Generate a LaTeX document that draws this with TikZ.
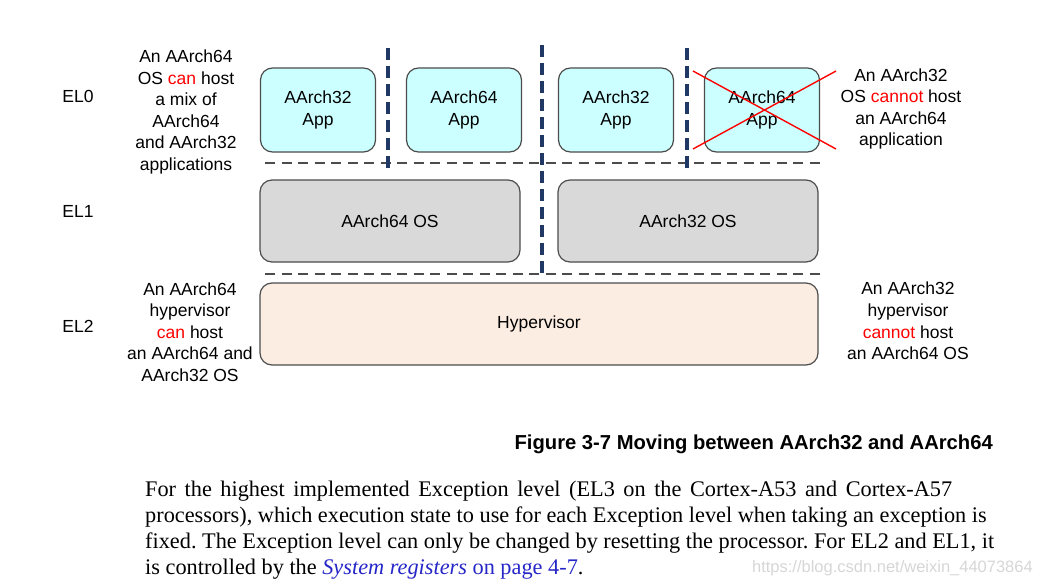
\documentclass[tikz,border=0pt]{standalone}
\usepackage{fontspec}
\setmainfont{Liberation Serif}
\setsansfont{Liberation Sans}
\usepackage{tikz}
\frenchspacing

\definecolor{appCyan}{HTML}{CCFFFF}
\definecolor{osGray}{HTML}{D9D9D9}
\definecolor{hypPeach}{HTML}{FCEDE2}
\definecolor{splitNavy}{HTML}{1F3864}
\definecolor{linkBlue}{HTML}{2626C8}
\definecolor{noRed}{HTML}{FF0000}
\definecolor{markGray}{HTML}{D6D6D6}

\begin{document}
\begin{tikzpicture}[%
	x=1pt, y=-1pt,
	every node/.style = {font=\sffamily\fontsize{17.5}{21.6}\selectfont, align=center, inner sep=0pt},
	layer/.style={shape=rectangle, rounded corners=12pt, draw=black!70, line width=1.2pt},
	app/.style={layer, fill=appCyan, minimum width=115pt, minimum height=84pt},
	os/.style={layer, fill=osGray, minimum width=260pt, minimum height=82pt},
	hyp/.style={layer, fill=hypPeach, minimum width=558pt, minimum height=82pt},
	levelSplit/.style={draw=black!70, line width=2.2pt, dash pattern=on 10pt off 6.5pt},
	stateSplit/.style={draw=splitNavy, line width=3.5pt, dash pattern=on 12pt off 6pt},
	note/.style={anchor=center},
	body/.style={font=\rmfamily\fontsize{22.3}{26}\selectfont, align=left, anchor=north west}
	]
  \useasboundingbox (0,0) rectangle (1042,586);
  % exception levels
  \node (el0) at (78,96) {EL0};
  \node (el1) at (78,211) {EL1};
  \node (el2) at (78,326) {EL2};
  % layers
  \node [app] (app1) at (318,110) {AArch32\\App};
  \node [app] (app2) at (464,110) {AArch64\\App};
  \node [app] (app3) at (616,110) {AArch32\\App};
  \node [app] (app4) at (762,110) {AArch64\\App};
  \node [os] (os64) at (390,221) {AArch64 OS};
  \node [os] (os32) at (688,221) {AArch32 OS};
  \node [hyp] (hyp) at (539,324) {Hypervisor};
  % separators
  \draw [levelSplit] (265,163) -- (820,163);
  \draw [levelSplit] (265,274) -- (820,274);
  \draw [stateSplit] (388,48) -- (388,170);
  \draw [stateSplit] (542,45) -- (542,276);
  \draw [stateSplit] (687,48) -- (687,170);
  \draw [noRed, line width=1.4pt] (693,71) -- (836,149) (693,149) -- (836,71);
  % notes
  \node [note] (n0l) at (186,112) {An AArch64\\OS \textcolor{noRed}{can} host\\a mix of\\AArch64\\and AArch32\\applications};
  \node [note] (n0r) at (901,109) {An AArch32\\OS \textcolor{noRed}{cannot} host\\an AArch64\\application};
  \node [note] (n2l) at (190,332) {An AArch64\\hypervisor\\\textcolor{noRed}{can} host\\an AArch64 and\\AArch32 OS};
  \node [note] (n2r) at (908,321) {An AArch32\\hypervisor\\\textcolor{noRed}{cannot} host\\an AArch64 OS};
  % caption and text
  \node [anchor=base east, font=\sffamily\bfseries\fontsize{20.2}{22}\selectfont] (cap) at (993,449) {Figure 3-7 Moving between AArch32 and AArch64};
  \node [body] (txt) at (145,481) {\makebox[807pt][s]{For the highest implemented Exception level (EL3 on the Cortex-A53 and Cortex-A57}\\
  processors), which execution state to use for each Exception level when taking an exception is\\
  fixed. The Exception level can only be changed by resetting the processor. For EL2 and EL1, it\\
  is controlled by the \textcolor{linkBlue}{\textit{System registers} on page 4-7}.};
  \node [anchor=base east, text=markGray, font=\sffamily\fontsize{16.5}{18}\selectfont] (mark) at (1033,572) {https://blog.csdn.net/weixin\_44073864};
\end{tikzpicture}
\end{document}
